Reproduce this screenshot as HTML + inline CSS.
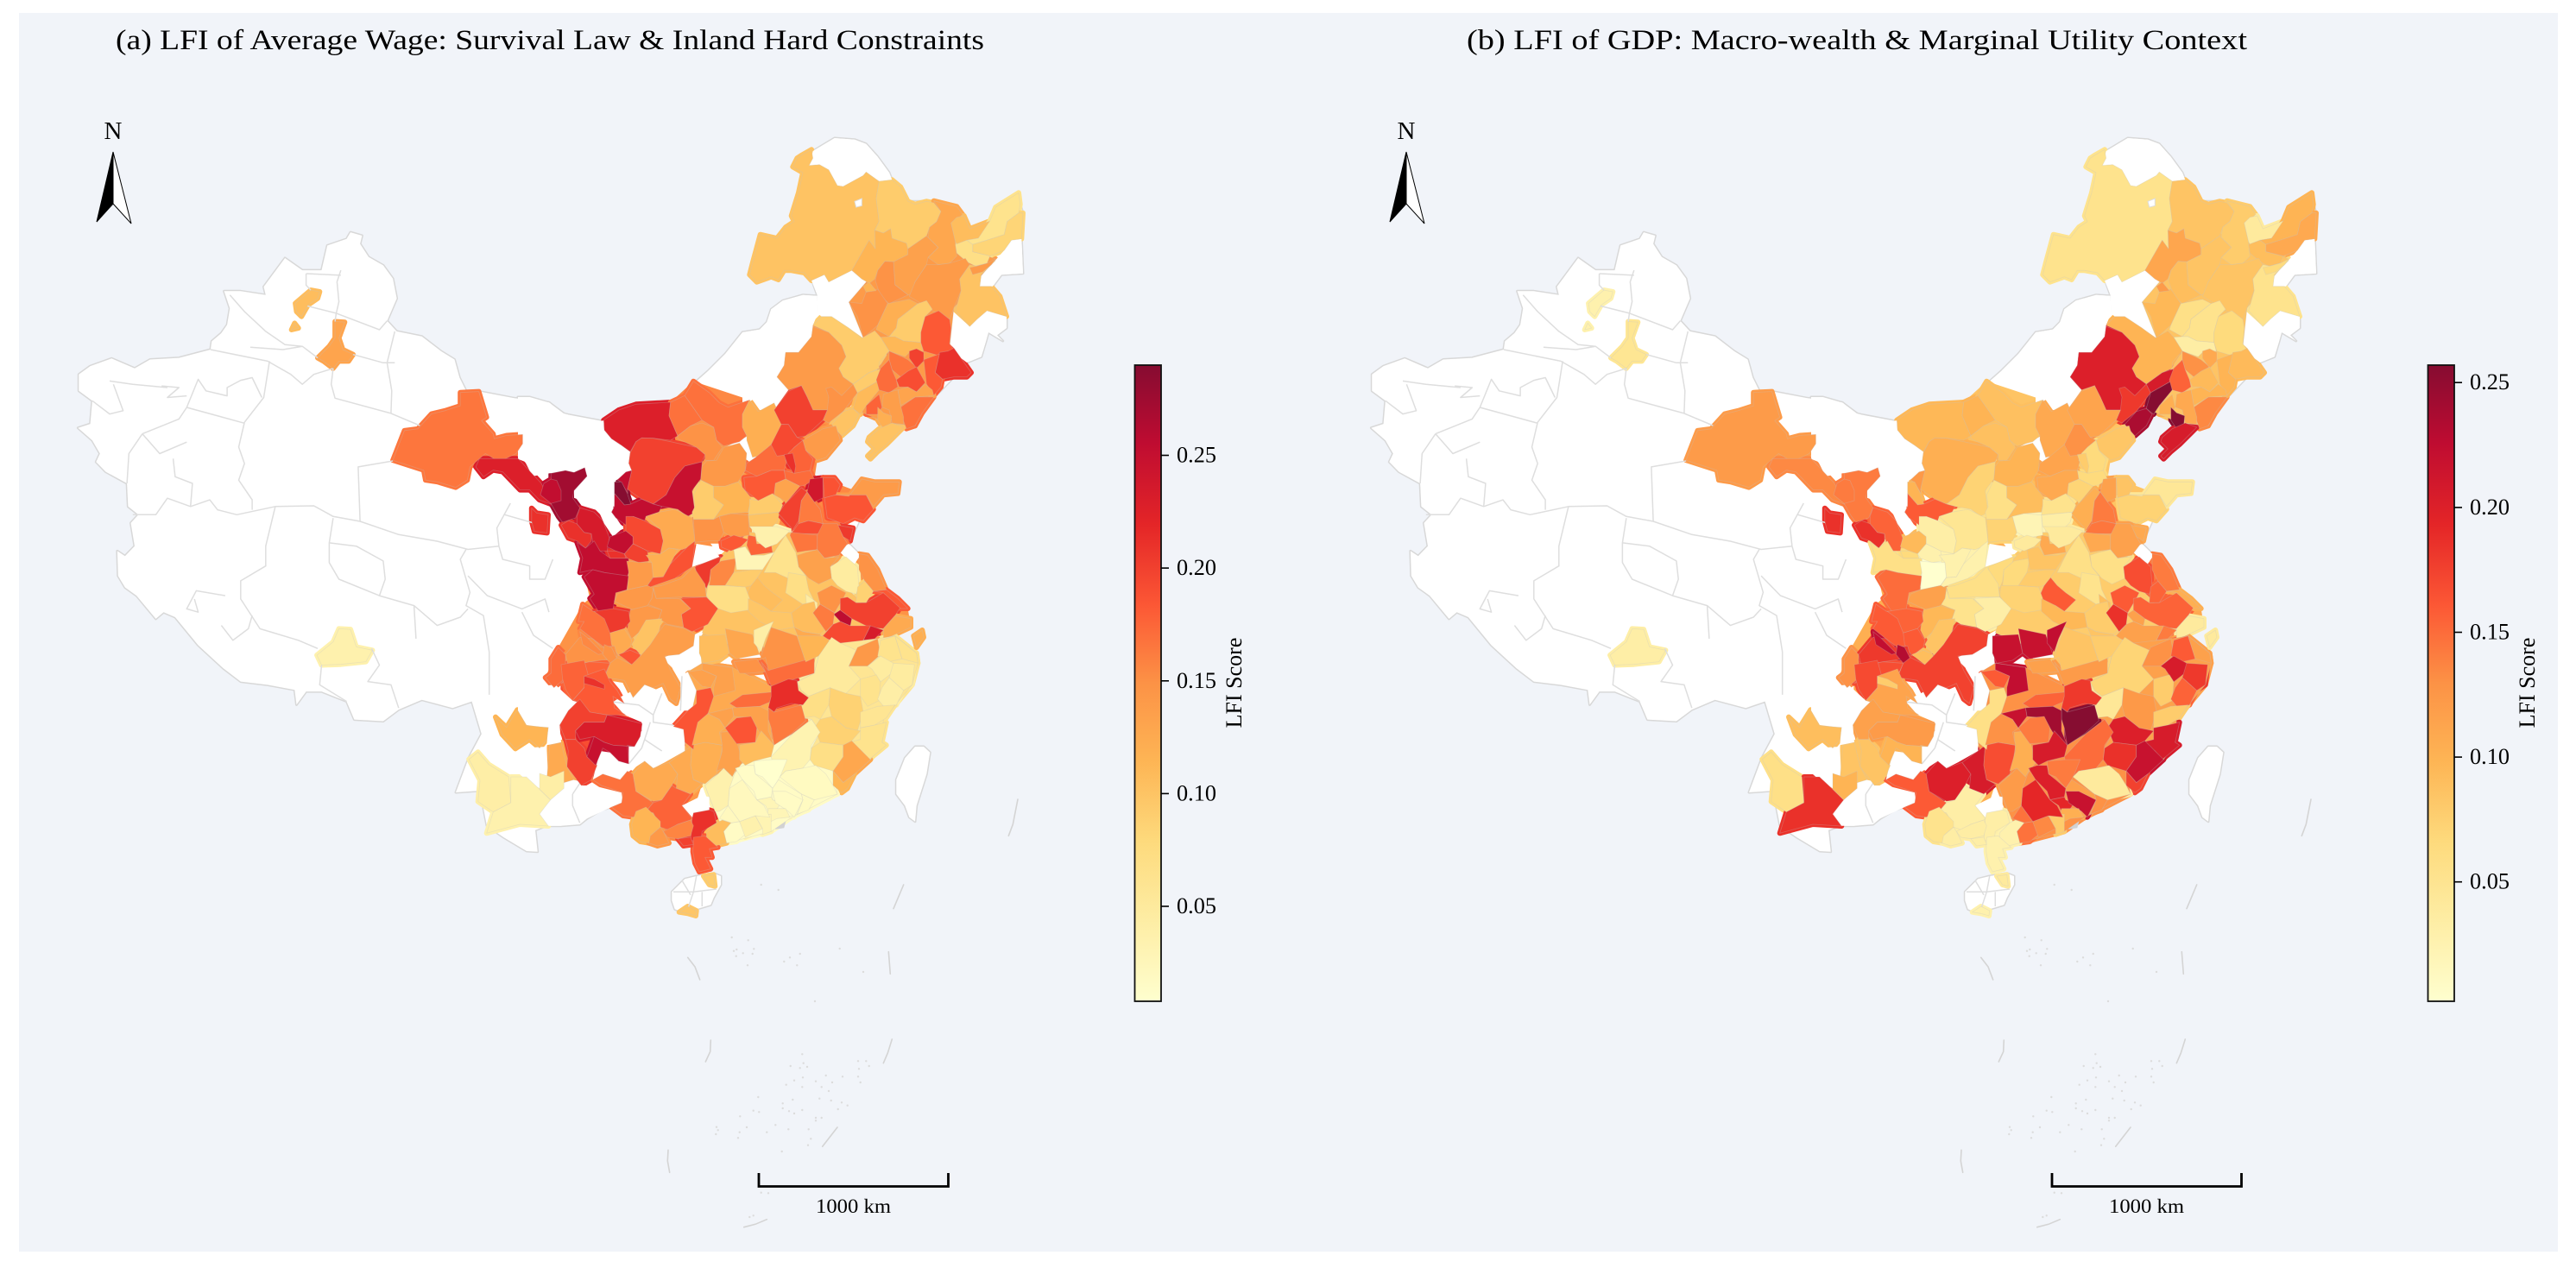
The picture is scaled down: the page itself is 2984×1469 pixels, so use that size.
<!DOCTYPE html>
<html lang="en">
<head>
<meta charset="utf-8">
<title>LFI Maps</title>
<style>
html,body{margin:0;padding:0;background:#fff;}
svg{display:block;font-family:"Liberation Serif",serif;}
</style>
</head>
<body>
<svg id="figure" xmlns="http://www.w3.org/2000/svg" width="2984" height="1469" viewBox="0 0 2984 1469">
<defs>
<linearGradient id="ylorrd" x1="0" y1="1" x2="0" y2="0">
<stop offset="0" stop-color="#ffffcc"/><stop offset="0.125" stop-color="#feeda0"/><stop offset="0.25" stop-color="#fed976"/><stop offset="0.375" stop-color="#feb24c"/><stop offset="0.5" stop-color="#fd8d3c"/><stop offset="0.625" stop-color="#fc4e2a"/><stop offset="0.75" stop-color="#e31a1c"/><stop offset="0.875" stop-color="#bd0026"/><stop offset="1" stop-color="#800026"/>
</linearGradient>
</defs>
<rect x="22" y="15" width="2941" height="1435" fill="#f1f4f9"/>
<text x="134" y="57" font-size="33" textLength="1006" lengthAdjust="spacingAndGlyphs" fill="#000">(a) LFI of Average Wage: Survival Law &amp; Inland Hard Constraints</text>
<text x="1699" y="57" font-size="33" textLength="904" lengthAdjust="spacingAndGlyphs" fill="#000">(b) LFI of GDP: Macro-wealth &amp; Marginal Utility Context</text>
<g id="panelA"></g>
<g id="panelB" transform="translate(1498,0)"></g>
</svg>
<script>
/* ---------- chart data: LFI score per prefecture ---------- */
const wageFill=[.155,.149,.149,.191,.143];
const gdpFill=[.086,.104,.109,.109,.104];

const wageWest=[.166,.228,.211,.036,.107,.107,.132];
const gdpWest=[.122,.135,.186,.033,.028,.028,.048];

const wageNE=[.141,
.101,.093,.129,.107,.064,.084,.070,.115,.135,.149,
.141,.101,.141,.149,.115,.121,.093,.112,.183,.211,
.093,.141,.149,.093,.110,.101,.166,.172,.200,.191,
.183,.169,.132,.138,.177,.121,.101];
const gdpNE=[.086,
.053,.086,.079,.040,.099,.109,.091,.112,.086,.091,
.086,.053,.066,.096,.122,.058,.053,.035,.066,.094,
.099,.201,.181,.206,.257,.237,.130,.155,.109,.094,
.099,.135,.099,.109,.104,.257,.206];

const wageMid=[.101,
.228,.169,.169,.149,.200,.248,.253,.290,.253,.273,
.253,.211,.234,.253,.253,.253,.211,.194,.126,.200,
.141,.121,.188,.205,.155,.093,.143,.115,.121,.172,
.200,.194,.141,.177,.211,.172,.183,.132,.093,.101,
.200,.239,.188,.163,.191,.186,.141,.205,.163,.166,
.149,.047,.087,.135,.028,.177,.036,.064,.107,.070,
.045,.070,.093,.098,.107,.141,.186,.143,.143,.143,
.101,.169,.205,.126,.186,.172,.149,.155,.149,.138,
.177,.149,.141,.183,.149,.256,.200,.234,.194,.126,
.183,.126,.163];
const gdpMid=[.079,
.096,.099,.089,.089,.104,.073,.124,.099,.160,.142,
.142,.186,.155,.094,.058,.150,.066,.033,.048,.028,
.002,.028,.028,.066,.066,.058,.099,.091,.109,.114,
.114,.130,.084,.066,.079,.066,.109,.071,.053,.033,
.104,.117,.086,.142,.145,.073,.045,.109,.117,.109,
.142,.168,.155,.058,.086,.109,.040,.058,.160,.053,
.091,.073,.079,.096,.079,.058,.033,.053,.117,.096,
.086,.160,.155,.160,.091,.130,.181,.224,.232,.175,
.168,.073,.022,.040,.160,.117,.155,.142,.117,.040,
.104,.086,.186];

const wageSouth=[.126,.016,.059,
.177,.183,.211,.200,.200,.231,.248,.126,.115,.042,
.036,.042,.169,.126,.126,.121,.135,.186,.121,.135,
.135,.107,.129,.042,.149,.149,.172,.115,.050,.143,
.064,.064,.047,.047,.064,.042,.087,.070,.059,.064,
.087,.070,.129,.115,.033,.019,.008,.014,.019,.016,
.028,.016,.028,.016,.036,.031,.022,.036,.022,.211,
.107,.177,.157,.115,.143,.183,.200,.093,.098,.172,
.214,.163,.135,.186,.107,.135,.121];
const gdpSouth=[.130,.130,.117,
.170,.114,.079,.117,.086,.122,.099,.086,.091,.058,
.186,.099,.160,.201,.206,.168,.104,.058,.130,.160,
.224,.219,.219,.224,.117,.086,.122,.079,.071,.130,
.160,.117,.206,.181,.079,.155,.124,.045,.079,.206,
.201,.186,.219,.175,.150,.040,.142,.201,.130,.117,
.193,.219,.104,.147,.135,.079,.193,.122,.147,.033,
.028,.033,.035,.053,.035,.028,.033,.040,.028,.155,
.181,.257,.242,.142,.206,.219,.040];

const wageTicks=[0.05,0.10,0.15,0.20,0.25];
const gdpTicks=[0.05,0.10,0.15,0.20,0.25];
const wageTickLabels=["0.05","0.10","0.15","0.20","0.25"];
const gdpTickLabels=["0.05","0.10","0.15","0.20","0.25"];
const wageDomain=[0.0079,0.29];
const gdpDomain=[0.0022,0.257];
const colormapStops=["#ffffcc","#feeda0","#fed976","#feb24c","#fd8d3c","#fc4e2a","#e31a1c","#bd0026","#800026"];

/* ---------- map geometry (region outlines, traced per source block) ---------- */
const shapesFill=[
"390,285 530,245 530,108 610,35 805,100 890,110 1075,135 1120,240 1040,310 1030,375 1120,395 1210,430 1235,480 1130,530 1050,565 950,560 800,540 800,500 610,515 500,470 380,410",
"205,595 320,575 500,550 610,515 705,650 640,910 600,960 560,985 300,1060 150,1085 95,1065 140,960 225,810 250,790",
"1000,630 1185,635 1280,760 1355,825 1365,890 1290,920 1180,930 1055,925 1040,800",
"150,1020 345,1110 432,1225 385,1365 255,1420 170,1375 145,1230",
"260,1420 400,1400 525,1360 605,1300 640,1435 600,1560 600,1620 555,1625 455,1640 400,1615 395,1575 445,1530 365,1545 325,1515 365,1465"];

const shapesWest=[
"1060,535 1108,532 1128,610 1115,620 1145,660 1148,675 1180,665 1222,662 1222,690 1205,720 1160,745 1140,730 1125,720 1085,760 1078,800 1048,822 1000,805 970,800 965,770 885,740 915,650 950,645 985,600 1020,590 1060,575",
"1165,735 1210,735 1250,785 1270,810 1300,875 1265,860 1240,830 1215,830 1170,775 1145,770 1120,790 1100,760 1110,735 1140,735",
"1245,885 1258,900 1288,905 1285,960 1252,955 1245,925",
"745,1250 775,1252 790,1305 832,1315 815,1350 750,1358 700,1360 688,1330 730,1290",
"672,225 695,230 690,250 665,270 648,305 635,290 632,265",
"630,325 640,340 622,345",
"735,320 760,322 745,370 755,405 782,420 770,440 745,440 730,462 705,440 690,430 720,395 735,370"];

const shapesNE=[
"462,415 740,400 880,450 735,620 720,760 680,860 600,1030 500,1020 385,970 510,770 420,725 370,600 430,530",
"205,90 240,70 245,100 232,125 268,122 300,140 330,195 350,198 420,160 430,148 475,180 465,240 475,320 460,350 462,415 440,385 380,490 300,530 285,505 240,525 215,498 170,490 145,490 125,522 100,512 50,530 25,505 35,465 62,365 120,378 150,340 180,320 170,300 195,220 210,150 175,130 190,100",
"475,180 520,175 550,200 575,250 600,260 640,250 665,255 690,285 675,320 650,340 640,370 575,415 570,395 520,378 515,345 490,360 460,350 475,320 465,240",
"665,248 745,268 765,295 745,315 725,325 740,390 745,440 720,465 680,470 645,445 680,410 645,375 650,340 675,320 690,285",
"725,325 745,305 770,300 790,345 860,318 855,340 820,378 780,385 745,400 740,390",
"860,318 880,270 960,220 965,260 960,290 920,320 910,365 850,385 800,400 780,385 820,378",
"960,290 975,290 970,380 935,385 910,420 860,440 800,425 800,400 850,385 910,365 920,320",
"740,400 780,385 800,400 800,425 860,440 850,465 810,475 780,460 745,430",
"462,415 460,350 490,360 515,345 520,378 570,395 575,415 575,435 525,460 495,458 470,490 460,520 440,535 415,520 380,490 440,385",
"525,460 575,435 575,415 640,370 680,410 645,445 640,470 600,530 590,570 575,575 530,540",
"495,458 525,460 530,540 575,575 510,605 480,580 462,525 470,490",
"640,470 680,470 720,465 775,448 790,470 755,520 760,560 735,620 720,660 660,630 605,595 580,580 600,530",
"755,520 790,470 815,475 850,465 880,455 865,470 830,505 825,545 865,545 895,580 918,650 850,630 815,660 790,685 740,630 760,560",
"790,480 815,475 850,465 880,450 865,470 835,495 800,505",
"370,600 415,605 430,565 470,555 505,605 470,680 420,725 400,650",
"420,545 440,530 465,560 430,565",
"470,680 505,605 580,590 610,605 540,660 535,690 510,720 465,695",
"540,660 610,605 640,595 660,625 635,650 620,705 620,740 560,735 530,720 510,720 535,690",
"480,722 510,720 530,720 560,735 620,740 628,770 580,775 565,790 510,770",
"635,650 682,630 720,660 725,690 720,745 735,765 680,785 630,770 620,740 620,705",
"685,775 715,770 735,760 760,795 795,845 780,860 735,860 695,868 670,845",
"245,680 275,650 310,650 370,690 415,725 460,700 480,722 510,770 475,810 475,830 440,845 385,885 350,860 335,830 360,790 345,750 300,705",
"245,685 300,705 345,750 360,790 335,830 350,860 385,885 340,935 335,965 300,975 245,975 225,930 205,890 160,905 120,860 145,820 150,775 195,775 240,720",
"290,900 310,895 345,925 385,885 400,915 350,980 300,1020 280,1010 295,975 300,930",
"385,885 440,845 485,830 470,875 400,915",
"400,915 470,875 475,905 430,960 410,990 385,970",
"310,1025 350,980 385,970 405,990 385,1030 345,1065",
"510,770 555,790 575,800 605,825 550,860 520,835 510,800",
"480,830 510,800 520,835 535,870 540,895 510,915 475,905 465,870",
"580,770 605,762 630,775 630,805 605,830 580,795",
"535,870 575,840 605,825 635,880 605,912 575,895 545,895",
"630,800 685,780 670,845 695,868 690,895 665,925 640,885",
"550,965 600,930 665,930 625,985 600,1030 570,1040 555,1000",
"540,905 575,895 605,912 635,885 660,905 665,925 600,930 550,960",
"490,920 520,910 540,905 550,960 560,1000 560,1025 520,1020 510,975 485,965",
"430,960 475,920 485,965 470,990 430,990",
"470,965 490,985 518,995 515,1025 490,1040 470,1010",
"475,1040 520,1020 560,1035 500,1095 470,1120 445,1145 435,1135 460,1110 435,1085 440,1070"];

const shapesMid=[
"705,650 800,560 950,560 1100,640 1085,700 1180,790 1270,900 1060,925 1000,1010 870,1000 850,950 770,945 760,960 640,910 660,840 650,740",
"298,170 350,135 410,115 530,108 525,155 555,225 530,240 470,233 430,232 410,245 390,280 360,258 325,235 300,205",
"530,108 580,85 640,170 600,190 555,225 525,155",
"580,85 610,35 665,75 700,110 730,125 805,100 780,150 780,195 795,225 770,245 715,260 690,240 680,195 640,170",
"600,190 640,180 680,195 690,240 710,265 680,310 650,310 650,290 620,265 555,235 555,225",
"390,285 410,245 430,232 470,233 530,245 620,265 650,290 640,315 580,330 545,370 515,430 470,462 430,445 380,410 395,345 385,320",
"640,315 635,375 605,415 615,490 590,505 555,480 500,470 470,462 515,430 545,370 580,330",
"345,378 375,350 395,345 380,410 382,425 358,385",
"335,385 360,385 380,425 392,462 370,465 335,425",
"335,425 370,465 392,462 430,445 470,462 500,470 490,490 445,505 440,520 400,505 375,535 340,510 325,490 335,470",
"115,355 165,345 195,352 232,335 240,365 195,415 190,440 215,475 200,510 155,525 140,505 115,460 115,375",
"90,390 115,375 135,380 150,415 150,450 115,460 78,430",
"150,535 175,520 205,530 230,560 255,565 255,590 235,615 205,590 175,580",
"205,505 215,475 265,490 295,520 318,580 310,625 285,625 260,595 255,565 230,560 205,530",
"310,610 320,575 375,555 400,575 400,600 370,635 340,625",
"205,595 235,615 265,590 285,625 320,650 385,650 385,700 380,715 300,700 260,690 215,700 225,650",
"230,715 260,690 300,700 385,712 378,760 340,770 330,830 280,835 250,790 265,775",
"310,625 340,625 370,635 375,650 320,650",
"375,505 400,505 440,520 495,550 505,590 495,635 450,625 400,600 400,575 375,555",
"445,505 490,490 545,480 605,510 615,590 610,605 570,620 525,615 495,635 505,590 495,550",
"370,635 400,600 450,625 455,660 420,665 380,650",
"378,660 430,665 465,665 470,715 450,745 380,760 385,700",
"445,640 495,635 525,615 555,620 530,670 505,715 470,718 465,665",
"530,670 555,645 590,610 615,590 605,680 545,720 460,750 450,745 470,718 505,715",
"615,680 650,665 705,645 700,665 670,690 665,730 655,755 620,700",
"670,690 705,660 760,650 750,700 720,750 665,745 668,720",
"610,430 635,378 680,400 680,440 715,465 680,515 610,515 605,490 615,470",
"655,312 690,310 715,265 770,250 795,285 790,345 765,385 720,400 680,400 635,378 640,330",
"680,400 720,400 765,385 810,440 800,490 740,495 700,505 680,515 715,465 680,440",
"780,150 805,100 835,140 890,110 925,185 880,255 835,295 815,300 795,240 795,225 780,195",
"825,300 880,255 915,250 935,310 925,345 880,345 830,365 790,345 795,320",
"890,135 940,70 985,50 1005,90 1025,135 1075,135 1060,170 1000,225 970,230 940,185 915,185",
"880,255 915,185 940,185 970,230 990,240 960,265 940,290 900,295",
"990,240 1060,200 1105,190 1120,240 1070,300 1040,310 1000,275",
"940,285 960,265 990,240 1000,275 1025,305 1015,345 975,360 960,355 930,310",
"925,290 955,285 965,330 960,360 935,320",
"925,345 960,355 1015,345 1030,375 1000,395 980,400 930,375",
"785,370 830,365 880,345 925,345 930,375 895,390 890,430 835,450 790,415",
"895,390 930,375 980,400 930,460 925,450 890,430",
"805,445 835,450 885,425 920,465 910,490 800,500 805,470",
"800,500 910,490 900,525 880,545 805,540",
"925,465 985,405 1005,420 985,450 975,520 950,560 950,545 905,495",
"1015,375 1060,370 1060,440 1030,455 1005,420",
"1060,370 1100,370 1120,395 1105,430 1065,440",
"985,450 1005,420 1030,455 1050,480 1060,530 1010,520 975,530",
"975,530 1010,520 1060,530 1050,565 950,565",
"1065,440 1105,430 1210,430 1235,480 1200,520 1170,510 1130,530 1075,510",
"1105,430 1150,435 1195,375 1240,385 1325,385 1320,425 1270,430 1235,470 1210,430",
"1110,535 1165,545 1155,590 1130,575",
"1040,570 1060,530 1110,530 1130,575 1145,600 1115,640 1065,650 1040,620",
"950,560 1040,570 1040,620 1000,625 970,630 945,570",
"1185,635 1215,640 1250,690 1280,760 1235,765 1205,730 1185,690",
"1085,680 1140,645 1180,680 1185,750 1175,775 1140,765 1110,745 1090,720",
"1180,750 1205,730 1235,765 1210,805 1175,805",
"1000,630 1040,620 1065,650 1115,645 1085,680 1090,720 1045,740 1010,720 975,680 970,640",
"750,620 790,610 810,640 855,640 890,630 850,690 800,690 760,690",
"800,570 825,575 830,600 880,600 885,630 810,640 795,605",
"805,540 900,540 945,555 900,600 860,615 830,590 825,565",
"890,630 930,570 965,630 975,680 1000,710 940,720 895,700 855,700",
"810,745 830,715 855,745 885,770 920,795 880,835 850,815 790,790",
"940,700 1000,710 1010,760 1030,800 990,810 930,770 935,740",
"1000,775 1040,805 1040,850 1005,840",
"660,745 720,745 790,750 805,790 800,830 740,840 680,820 655,780",
"720,745 750,700 810,690 850,690 830,720 810,745 790,750",
"800,790 850,815 880,835 950,840 960,890 900,900 840,870 800,835",
"950,840 990,810 1030,800 1040,850 1090,840 1090,880 1050,915 990,905 960,890",
"470,750 500,745 570,720 610,680 650,740 655,785 565,785 480,790",
"565,790 655,785 695,825 660,880 605,905 575,890 568,845 600,825",
"470,755 480,790 560,790 600,825 568,845 575,890 520,880 490,860 500,830 450,810 465,790",
"345,775 380,760 450,745 470,755 465,790 450,815 400,830 390,825 335,800",
"390,830 450,815 500,830 490,860 450,870 430,900 395,930 380,900",
"445,865 500,860 490,905 455,970 430,990 395,950",
"225,810 262,835 300,840 330,895 335,955 300,960 260,930 215,895 230,870 210,870",
"265,835 330,825 385,835 390,870 370,895 320,910 300,860",
"320,910 370,895 395,935 390,960 350,990 325,950",
"350,985 390,970 425,985 420,1025 395,1020",
"140,960 165,985 165,1020 155,1075 125,1100 95,1065 115,1050 115,1000",
"165,985 215,925 260,930 290,960 335,955 345,990 320,1000 250,1010 175,1025",
"215,905 240,925 295,980 280,985 225,950",
"300,950 325,960 345,1000 320,1015 295,985",
"345,995 395,1020 425,990 460,950 490,905 510,880 580,895 615,915 610,955 560,985 510,990 530,1040 565,1100 550,1155 530,1140 505,1085 470,1100 440,1090 400,1135 370,1075 340,1070 300,1065 320,1015",
"175,1025 250,1010 320,1015 300,1060 250,1060 210,1060 150,1085 175,1060",
"610,515 680,515 700,505 715,560 700,590 660,590 615,595",
"700,505 740,495 800,500 805,570 750,580 715,560",
"705,590 750,570 800,585 775,610 740,625 708,612",
"1040,770 1090,745 1140,770 1130,790 1100,840 1050,810",
"1097,845 1120,830 1160,860 1155,885 1120,870",
"1120,790 1145,785 1175,805 1210,805 1270,770 1330,820 1310,850 1270,895 1220,890 1160,860 1120,830",
"1200,935 1225,885 1270,900 1240,930",
"1055,925 1095,880 1120,870 1155,885 1225,885 1200,935 1150,975 1120,945",
"1270,895 1310,850 1365,860 1365,890 1300,920 1270,930",
"1235,765 1280,760 1320,790 1355,825 1330,825 1270,770",
"960,890 990,905 1050,915 1060,930 1030,1000 1000,1010 980,940",
"1025,840 1050,810 1100,840 1095,880 1070,905"];

const shapesSouth=[
"590,235 640,205 745,220 880,285 880,530 785,560 745,600 695,590 640,625 610,610 580,480 620,300",
"650,630 955,450 1020,400 1095,580 1110,660 945,745 880,790 725,830 715,790 665,670",
"970,270 1030,240 1045,180 1120,135 1250,120 1310,110 1385,170 1390,205 1370,280 1270,400 1265,480 1225,540 1130,620 1095,630 1095,580 1020,500 1050,445 1020,400 985,395",
"150,210 230,195 245,250 230,290 190,335 165,295 155,260",
"230,250 300,225 320,270 345,300 370,345 330,320 335,360 375,385 310,385 250,375 220,340 190,335 230,290",
"230,250 265,260 300,280 300,295 230,275",
"215,330 250,375 310,385 300,410 230,410 200,440 200,470 165,470 145,420 175,370",
"165,470 200,470 230,500 240,530 275,560 255,610 220,630 170,565 175,510",
"230,410 300,410 310,385 370,400 432,415 425,460 405,495 330,490 300,480 265,460 215,470 200,440",
"265,460 300,480 330,490 405,495 380,490 385,555 350,545 320,515 295,500 270,560 240,530",
"110,490 150,480 170,565 195,610 160,620 110,625 100,610",
"-78,392 -40,428 -2,367 29,422 106,428 100,470 75,500 40,470 -9,502 -55,453",
"-170,539 -139,514 -101,557 -32,600 -25,690 -86,722 -139,686 -132,612",
"-25,600 29,600 75,643 113,680 75,729 106,771 6,765 -109,796 -86,722 -25,690",
"75,588 113,600 160,580 160,640 113,680 75,643",
"260,610 295,590 355,610 380,580 400,590 410,650 470,690 445,720 400,740 365,735 325,705 360,690 365,655 290,630",
"400,590 440,545 470,570 525,550 555,590 535,630 500,680 470,685 410,650",
"525,550 580,510 605,490 600,560 610,610 640,625 600,660 550,640 555,590",
"605,490 650,480 710,490 700,560 690,590 650,625 610,610 600,560",
"705,445 750,440 770,510 780,550 745,600 715,570 690,580 710,510",
"620,300 670,290 680,320 660,380 640,410 615,450 610,505 580,480 575,435 540,425 590,370 620,345",
"610,470 625,410 660,380 700,400 720,430 700,445 710,490 650,480 605,490",
"590,235 640,228 690,250 670,290 640,285",
"640,205 745,220 755,300 680,320 680,290 690,250 640,228",
"630,110 720,105 735,170 700,195 645,205 630,170",
"720,85 815,105 840,175 760,190 735,170",
"820,90 888,60 860,120 845,165 820,135",
"750,200 830,190 860,235 800,240 770,240",
"840,195 880,80 970,110 1000,200 920,220 870,230 860,185",
"845,200 870,230 1030,185 1030,240 960,260 880,285 860,235",
"970,110 1060,110 1090,130 1045,180 1000,200",
"970,270 1030,240 1045,180 1090,115 1120,135 1175,160 1150,215 1190,260 1140,310 1105,335 1085,290 1010,320 985,300",
"1150,215 1180,150 1250,120 1260,175 1215,215",
"1250,180 1260,125 1310,110 1335,190 1290,200",
"1310,110 1385,170 1390,205 1335,190",
"1215,215 1260,180 1305,205 1305,235 1260,270 1230,225",
"1305,205 1378,210 1370,280 1340,300 1290,255",
"1190,260 1245,245 1260,270 1255,335 1215,355 1190,320",
"1290,255 1340,300 1315,350 1275,360 1250,330 1265,290",
"1085,290 1140,310 1190,320 1200,375 1180,440 1140,430 1090,390 1080,350",
"970,270 985,300 1010,320 1085,290 1080,350 1050,400 1030,390 985,395 985,350",
"1190,375 1250,355 1310,350 1280,395 1240,420 1190,430",
"1190,430 1240,420 1280,410 1265,480 1280,490 1220,540 1195,510 1150,480 1190,470",
"1050,400 1090,390 1140,430 1190,440 1160,475 1130,490 1050,480 1030,430",
"1020,500 1050,480 1130,490 1130,530 1095,580 1030,560 1015,540",
"1130,490 1160,475 1195,510 1225,540 1170,590 1130,620 1095,580 1130,530",
"1095,580 1130,620 1170,590 1145,640 1125,655 1095,630",
"880,530 955,450 1020,400 1050,445 1020,490 1015,540 990,570 930,580 910,600 885,550",
"910,600 930,580 990,570 1035,560 1070,590 1095,630 1110,660 1030,680 985,660",
"820,545 885,540 935,540 915,590 905,610 885,640 850,600 825,590",
"755,570 785,560 820,560 825,590 850,610 885,640 880,670 830,680 820,650 780,610",
"985,660 1030,680 1010,715 970,730 990,680",
"905,610 985,660 990,680 970,730 940,740 915,690 885,680 885,640",
"830,680 880,670 885,680 915,690 880,740 860,700",
"885,650 930,650 990,680 960,740 940,720 895,690",
"870,710 930,710 945,740 900,745 880,755 865,740",
"715,790 740,760 770,755 790,800 760,825 725,830",
"770,755 825,735 850,780 790,810",
"850,780 825,735 880,730 880,790 850,800",
"735,640 780,610 830,680 855,700 875,740 825,735 770,755 730,700",
"650,630 695,590 715,570 745,600 760,570 735,640 730,700 700,720 685,720 665,670",
"700,745 730,700 770,755 740,760",
"605,745 610,725 665,715 680,720 690,760 640,790 635,830 600,820",
"655,795 690,760 710,750 740,760 715,790 725,830 685,840 655,810",
"445,720 470,690 500,680 535,630 550,640 600,660 570,700 605,745 600,750 555,765 525,785 495,775 470,725",
"505,790 555,765 600,750 610,770 600,805 555,815 520,810",
"395,765 410,720 445,705 495,755 495,775 465,800 455,830 425,825 400,805",
"460,805 495,775 505,790 525,830 485,840 455,830",
"610,810 650,805 695,845 665,850 675,880 650,880 670,920 630,930 615,900 608,860",
"555,815 600,810 610,835 575,840",
"645,945 680,940 685,980 665,975",
"560,1070 590,1050 620,1065 618,1083 590,1075",
"735,345 780,315 885,305 875,340 840,355 760,360",
"880,285 940,260 970,265 975,300 1010,325 990,350 950,345 900,360 890,375 870,360 880,320",
"870,360 890,375 985,350 1000,405 950,450 890,490 880,430 870,400",
"745,360 840,355 870,370 870,440 890,490 855,470 830,430 810,395 750,390",
"720,430 760,395 810,390 830,430 825,480 760,485",
"770,490 825,480 845,440 890,490 880,530 820,545 790,560 770,540",
"660,380 745,360 750,390 720,430 700,400",
"1375,110 1405,90 1410,115 1385,150"];

/* white land base, one outline per source block */
const baseWest="775,50 805,60 800,85 822,125 860,150 885,190 895,250 870,318 895,350 960,365 1010,410 1045,435 1058,490 1075,530 1110,532 1200,552 1290,565 1330,600 1430,622 1568,622 1568,1568 1115,1568 1090,1470 1040,1490 960,1465 900,1495 860,1530 785,1525 765,1470 700,1440 660,1440 635,1480 630,1435 560,1420 490,1410 445,1370 380,1300 320,1215 290,1200 270,1220 220,1150 190,1125 172,1090 170,1015 190,1030 215,1000 205,930 225,905 198,880 195,810 140,775 115,745 125,720 105,680 68,642 100,630 105,560 70,530 70,480 100,455 155,432 215,462 255,435 330,430 412,405 415,380 440,355 455,330 462,280 447,228 490,228 555,240 550,215 605,128 650,165 700,165 715,90 765,70";
const baseNE="245,75 320,30 390,35 430,50 470,95 510,150 520,175 550,200 575,250 640,250 745,268 790,345 860,318 880,270 960,220 965,260 975,290 970,380 975,500 900,505 870,545 895,580 918,650 918,690 885,715 905,735 855,705 845,740 830,790 780,810 735,860 600,1000 430,950 340,1000 240,900 120,860 140,800 250,700 262,640 260,575 240,520 200,400 205,150";
const baseMid="0,90 40,90 110,110 150,145 260,175 298,172 350,135 420,112 530,105 580,85 620,35 660,0 720,-60 780,-135 840,-145 865,-170 880,-215 920,-245 990,-265 1040,-262 1045,-150 1030,0 1000,150 1015,330 1015,370 1100,380 1125,430 1195,470 1190,510 1150,600 1190,640 1275,760 1320,900 1000,1200 0,1200";
const baseSouth="-126,450 -171,534 -216,654 -132,648 -108,770 -50,810 30,858 68,860 60,785 100,770 150,770 215,765 240,745 290,715 325,705 400,700 560,760 600,780 650,790 900,700 1100,400 1100,200 600,0 -126,0";
const taiwan="1380,495 1410,495 1432,515 1420,590 1385,700 1380,755 1360,740 1345,700 1315,660 1315,610 1345,535";
const hainan="535,1000 580,955 620,945 680,935 705,945 705,975 680,1020 670,1045 620,1060 620,1082 590,1078 545,1060 535,1030";
const enclave="390,250 415,240 415,265 395,270";
const hkBlob="890,760 915,745 932,750 925,778 895,782";

/* areas with no data, kept white */
const holesNE=[
"240,525 285,505 300,530 380,490 415,520 440,530 420,545 430,565 415,605 370,600 400,650 420,725 370,690 310,650 275,650 262,640 262,580",
"232,125 268,122 300,140 330,195 350,198 420,160 430,148 475,180 520,175 510,150 470,95 430,50 390,35 320,30 245,75",
"730,630 790,685 815,660 850,630 918,650 918,690 885,715 855,705 845,740 830,790 780,810 760,795 735,760 720,745 725,690",
"865,470 910,420 935,385 970,380 975,500 900,505 870,545 825,545 830,505",
"0,705 60,695 85,670 100,625 140,595 210,575 258,578 262,640 245,680 240,720 195,775 150,775 145,820 120,860 160,905 110,975 60,975 35,940 0,960"];
const holesMid=[
"720,265 800,225 830,290 825,330 770,290 725,290",
"275,475 330,462 335,500 365,545 330,575 300,530",
"605,680 620,600 680,610 700,645 650,665",
"1110,620 1150,600 1190,640 1170,670 1130,640",
"770,960 820,945 845,995 770,1000",
"298,172 300,205 325,235 360,258 390,280 385,320 395,345 340,380 335,470 270,470 195,440 195,415 240,365 232,335 195,352 110,355 50,365 25,315 0,305 0,100 40,90 110,110 150,145 260,175"];
const holesSouth=[
"505,185 600,150 615,105 655,85 630,120 640,225 590,230 565,250 510,195",
"565,250 590,235 625,290 620,345 590,370 565,370",
"330,340 360,320 440,280 490,300 470,400 540,420 580,430 580,510 510,550 470,570 440,545 380,585 355,610 295,590 260,610 285,510 320,515 350,545 385,555 385,490 430,440 430,410 370,385",
"110,625 160,620 190,610 215,615 220,630 260,630 360,655 365,690 325,705 240,745 150,770 100,770 75,730 110,680",
"15,500 100,495 105,610 75,640 40,620 5,590",
"130,280 190,335 205,340 145,420 150,480 100,490 105,430 30,420 0,370 0,290",
"570,700 640,665 665,670 665,715 605,740"];

const provinceLinesWest=[
"660,272 738,295 850,345 870,318","750,165 740,200 745,260 738,295 735,320","660,175 750,180","660,175 660,210 672,225",
"690,430 650,395 605,390 555,350 500,290 462,240","515,398 600,405 650,395","412,405 560,440 620,480 650,510 680,480 730,462",
"730,462 725,510 735,552 880,598 955,635","880,598 882,530 870,445 890,350","782,420 860,445 890,445",
"565,440 550,550 500,625 485,700 500,750 485,800 520,860 520,890","350,580 500,628","350,580 380,495 400,530 455,545 455,520 490,498 520,490 545,550",
"235,660 330,615 350,580","235,660 200,720 195,810","235,660 280,720 350,685","315,735 320,790 365,810 360,880",
"210,905 270,905 300,855 360,880 410,860 430,890 480,905 580,880 680,878 730,910 800,925 900,965 1000,985 1080,1010 1160,1000",
"580,880 555,1000 555,1060 490,1105 490,1160 540,1250 640,1285 690,1310","730,915 720,990 790,1000 860,1045 865,1100 850,1150",
"720,990 720,1050 745,1100 850,1150 940,1180 945,1280","1075,1010 1060,1040 1085,1140 1075,1180 1120,1210 1135,1320 1135,1450",
"800,925 795,760 885,742","1160,1000 1155,945 1190,870","1175,905 1250,930","830,1310 850,1360 820,1410 880,1420 900,1490",
"700,1360 695,1420 765,1470","940,1180 1000,1240 1060,1215 1080,1190","1160,1000 1170,1040 1240,1060 1240,1100 1280,1100 1300,1040",
"1080,1090 1130,1150 1220,1190 1280,1160 1290,1200","1220,1200 1250,1270 1300,1310","450,1150 375,1135 350,1190 380,1200 370,1160","440,1240 470,1285 510,1250 520,1210",
"150,500 210,510 300,520","285,515 330,520 300,550 350,545","105,560 150,600 185,590 160,510"];
const provinceLinesSouth=[
"330,340 420,350 470,385 500,310","470,385 470,410 540,420","440,470 500,510","385,555 430,500 440,470 460,410","565,370 570,250",
"190,660 190,700 215,760","190,660 220,615","110,625 100,690 75,720","620,945 610,1000 590,1060","540,1000 610,1000 690,990","570,960 600,1010","640,1050 640,1000"];
const dashLines=["1040,75 1005,158","988,308 994,385","1000,612 985,660 970,695","810,918 758,985","565,1238 525,1255 485,1265","222,997 220,1035 227,1075","370,615 368,655 352,690","290,328 315,360 332,405","1437,-222 1420,-135 1405,-95"];
const reefDots=["443,258","500,268","450,305","460,300","458,323","482,313","515,315","520,298","498,355","625,342","645,328","680,315","670,355","818,297","900,378","732,480","688,664","692,695","680,712","705,708","647,705","660,755","690,745","632,770","688,778","735,758","755,778","780,792","792,762","770,738","828,742","885,715","920,705","882,688","910,688","882,742","890,762","748,818","788,825","825,832","845,842","812,855","688,858","655,822","620,835","620,852","642,862","660,870","535,813","518,860","538,865","472,880","735,885","755,885","735,895","595,910","565,935","495,918","470,935","465,955","390,917","395,928","388,942","640,925","710,925","718,958","708,980","617,1002","545,75","605,93","545,1145","570,1147","505,1230","518,1225"];

const xf={
  west:[60,250,1/2.24,1/2.613],
  ne:[860,150,1/3,1/3],
  mid:[600,430,1/3,1/3],
  south:[600,700,1/3,1/3],
  reef:[700,1000,1/3,1/3]
};
const SVGNS="http://www.w3.org/2000/svg";
function pts(str,block){
  const t=xf[block];
  return str.trim().split(/\s+/).map(function(p){
    const c=p.split(",");
    return (t[0]+c[0]*t[2]).toFixed(1)+","+(t[1]+c[1]*t[3]).toFixed(1);
  }).join(" ");
}
function hexToRgb(h){return [parseInt(h.slice(1,3),16),parseInt(h.slice(3,5),16),parseInt(h.slice(5,7),16)];}
function colorOf(v,domain){
  let t=(v-domain[0])/(domain[1]-domain[0]);
  t=Math.max(0,Math.min(1,t));
  const s=t*(colormapStops.length-1);
  const i=Math.min(Math.floor(s),colormapStops.length-2);
  const a=hexToRgb(colormapStops[i]),b=hexToRgb(colormapStops[i+1]);
  const f=s-i;
  const c=[0,1,2].map(function(k){
    const m=a[k]+(b[k]-a[k])*f;
    return Math.round(m*0.95+255*0.05);
  });
  return "rgb("+c.join(",")+")";
}
function yOf(v,domain){
  const barTop=423,barBottom=1160;
  return barBottom-(v-domain[0])/(domain[1]-domain[0])*(barBottom-barTop);
}
function drawPanel(g,prefix,vals,domain,ticks,tickLabels){
  function mk(tag,attrs,parent){
    const el=document.createElementNS(SVGNS,tag);
    Object.keys(attrs).forEach(function(k){el.setAttribute(k,attrs[k]);});
    (parent||g).appendChild(el);
    return el;
  }
  const bases=[[baseWest,"west"],[baseNE,"ne"],[baseMid,"mid"],[baseSouth,"south"],[taiwan,"south"],[hainan,"south"]];
  bases.forEach(function(b){
    const el=mk("polygon",{points:pts(b[0],b[1]),fill:"none",stroke:"#d8d8d8","stroke-width":"3","stroke-linejoin":"round"});
    
    
  });
  bases.forEach(function(b){
    const el=mk("polygon",{points:pts(b[0],b[1]),fill:"#ffffff",stroke:"none"});
    
    
  });
  const groups=[[shapesWest,"west",vals.west],[shapesNE,"ne",vals.ne],[shapesMid,"mid",vals.mid],[shapesSouth,"south",vals.south]];
  /* underlay: broad fills and slightly dilated regions that close seams between neighbours */
  shapesFill.forEach(function(shape,i){
    const col=colorOf(vals.fill[i],domain);
    const el=mk("polygon",{points:pts(shape,"mid"),fill:col,stroke:"none"});
    
    
  });
  groups.forEach(function(group){
    group[0].forEach(function(shape,i){
      const col=colorOf(group[2][i],domain);
      const el=mk("polygon",{points:pts(shape,group[1]),fill:col,stroke:col,"stroke-width":"6","stroke-linejoin":"round"});
      
      
    });
  });
  [[holesNE,"ne"],[holesMid,"mid"],[holesSouth,"south"]].forEach(function(h){
    h[0].forEach(function(shape){
      const el=mk("polygon",{points:pts(shape,h[1]),fill:"#ffffff"});
      
      
    });
  });
  const lines=provinceLinesWest.map(function(s){return [s,"west"];}).concat(provinceLinesSouth.map(function(s){return [s,"south"];}));
  lines.forEach(function(l){
    const el=mk("polyline",{points:pts(l[0],l[1]),fill:"none",stroke:"#dedede","stroke-width":"1.5","stroke-linejoin":"round"});
    
    
  });
  dashLines.forEach(function(s){
    const el=mk("polyline",{points:pts(s,"reef"),fill:"none",stroke:"#d4d4d4","stroke-width":"1.6","stroke-linecap":"round"});
    
    
  });
  reefDots.forEach(function(s){
    const c=pts(s,"reef").split(",");
    const el=mk("circle",{cx:c[0],cy:c[1],r:"1.2",fill:"#dcdcdc"});
    
    
  });
  const hk=mk("polygon",{points:pts(hkBlob,"south"),fill:"#d2d2d2"});
  
  
  groups.forEach(function(group){
    group[0].forEach(function(shape,i){
      const el=mk("polygon",{points:pts(shape,group[1]),fill:colorOf(group[2][i],domain),stroke:"rgba(195,195,195,0.3)","stroke-width":"0.8","stroke-linejoin":"round"});
      
      
    });
  });
  const encl=mk("polygon",{points:pts(enclave,"ne"),fill:"#fff",stroke:"#ddd","stroke-width":"1"});
  
  

  /* north arrow */
  const nLabel=mk("text",{x:"131",y:"161","text-anchor":"middle","font-size":"29",fill:"#000"});
  nLabel.textContent="N";
  
  
  const arrowL=mk("polygon",{points:"131,176 112,257 131,236",fill:"#000",stroke:"#000","stroke-width":"1"});
  
  
  const arrowR=mk("polygon",{points:"131,176 152,259 131,236",fill:"#fff",stroke:"#000","stroke-width":"1"});
  
  

  /* scale bar */
  const bar=mk("polyline",{points:"879,1359 879,1374.5 1098.5,1374.5 1098.5,1359",fill:"none",stroke:"#000","stroke-width":"2.8"});
  
  
  const barText=mk("text",{x:"945",y:"1405","font-size":"23",textLength:"87",lengthAdjust:"spacingAndGlyphs",fill:"#000"});
  barText.textContent="1000 km";
  
  

  /* colorbar */
  const cb=mk("rect",{x:"1314.5",y:"423",width:"30.5",height:"737",fill:"url(#ylorrd)","fill-opacity":"0.95",stroke:"#111","stroke-width":"1.8"});
  
  
  ticks.forEach(function(v,i){
    const y=yOf(v,domain);
    const tick=mk("line",{x1:"1345",x2:"1354",y1:y.toFixed(1),y2:y.toFixed(1),stroke:"#000","stroke-width":"1.6"});
    
    
    const lab=mk("text",{x:"1363",y:(y+8).toFixed(1),"font-size":"26",textLength:"46",lengthAdjust:"spacingAndGlyphs",fill:"#000"});
    lab.textContent=tickLabels[i];
    
    
  });
  const cbTitle=mk("text",{transform:"translate(1438,791) rotate(-90)","text-anchor":"middle","font-size":"26",fill:"#000"});
  cbTitle.textContent="LFI Score";
  
  
}
drawPanel(document.getElementById("panelA"),"wage",{fill:wageFill,west:wageWest,ne:wageNE,mid:wageMid,south:wageSouth},wageDomain,wageTicks,wageTickLabels);
drawPanel(document.getElementById("panelB"),"gdp",{fill:gdpFill,west:gdpWest,ne:gdpNE,mid:gdpMid,south:gdpSouth},gdpDomain,gdpTicks,gdpTickLabels);
</script>
</body>
</html>
